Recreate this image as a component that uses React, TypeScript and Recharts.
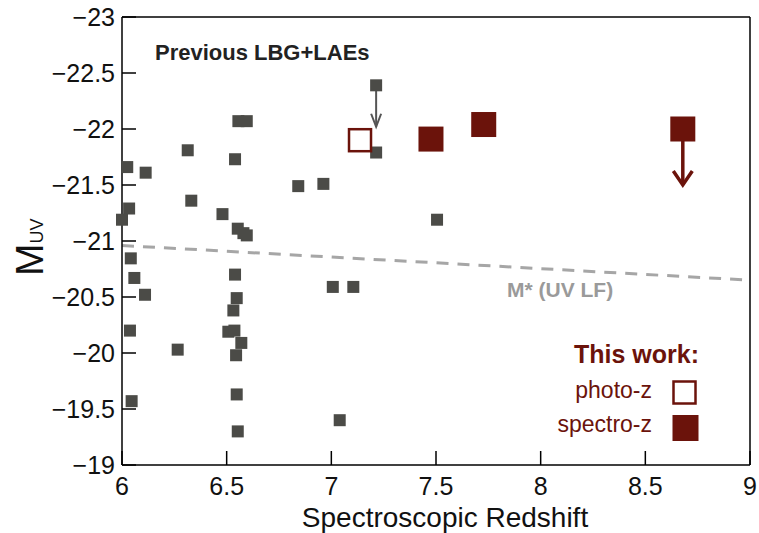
import React from 'react';
import { ScatterChart, Scatter, XAxis, YAxis, ReferenceLine, Customized } from 'recharts';

// Previous LBG + LAE sample
const prevZ = [6.025, 6.034, 6.0, 6.113, 6.314, 6.331, 6.48, 6.54, 6.556, 6.596, 6.553, 6.58, 6.596, 6.842, 6.962,
  6.042, 6.059, 6.11, 6.038, 6.266, 6.046, 6.54, 6.548, 6.532, 6.508, 6.537, 6.57, 6.545, 6.548, 6.553,
  7.007, 7.105, 7.04, 7.214, 7.214, 7.505];
const prevM = [-21.66, -21.29, -21.19, -21.61, -21.81, -21.36, -21.24, -21.73, -22.07, -22.07, -21.11, -21.07, -21.05, -21.49, -21.51,
  -20.845, -20.67, -20.52, -20.2, -20.03, -19.57, -20.7, -20.49, -20.38, -20.19, -20.2, -20.09, -19.98, -19.63, -19.3,
  -20.59, -20.59, -19.4, -22.39, -21.79, -21.19];

// This work
const photoZ = [7.137];
const photoM = [-21.9];
const specZ = [7.476, 7.728, 8.679];
const specM = [-21.91, -22.04, -22.0];

// M* (UV LF)
const mStarZ = [6, 9];
const mStarM = [-20.96, -20.65];

// Upper-limit arrows: start (symbol) and tip
const arrowZ = [7.214, 8.679];
const arrowFrom = [-22.34, -21.95];
const arrowTo = [-22.02, -21.5];
const arrowKind = ['prev', 'this'];

const xTicks = [6, 6.5, 7, 7.5, 8, 8.5, 9];
const yTicks = [-23, -22.5, -22, -21.5, -21, -20.5, -20, -19.5, -19];

const GREY = '#4b4b47';
const RED = '#6b130b';
const FONT = '"Liberation Sans", Arial, Helvetica, sans-serif';

const prevData = prevZ.map((z, i) => ({ z, m: prevM[i] }));
const photoData = photoZ.map((z, i) => ({ z, m: photoM[i] }));
const specData = specZ.map((z, i) => ({ z, m: specM[i] }));
const tipPrev = arrowZ.map((z, i) => ({ z, m: arrowTo[i], k: arrowKind[i] })).filter(d => d.k === 'prev');
const tipThis = arrowZ.map((z, i) => ({ z, m: arrowTo[i], k: arrowKind[i] })).filter(d => d.k === 'this');

const fmt = (v: number) => String(v).replace('-', '\u2212');

const GreySquare = (p: any) => <rect x={p.cx - 6} y={p.cy - 6} width={12} height={12} fill={GREY} />;
const OpenSquare = (p: any) => (
  <rect x={p.cx - 11} y={p.cy - 11} width={22} height={22} fill="#fff" stroke={RED} strokeWidth={2.5} />
);
const FilledSquare = (p: any) => <rect x={p.cx - 12.5} y={p.cy - 12.5} width={25} height={25} fill={RED} />;
const HeadPrev = (p: any) => (
  <polyline points={`${p.cx - 5},${p.cy - 13} ${p.cx},${p.cy} ${p.cx + 5},${p.cy - 13}`} fill="none" stroke="#555" strokeWidth={2} />
);
const HeadThis = (p: any) => (
  <polyline points={`${p.cx - 9.5},${p.cy - 14} ${p.cx},${p.cy} ${p.cx + 9.5},${p.cy - 14}`} fill="none" stroke={RED} strokeWidth={3.5} />
);
const Nothing = () => <g />;

const Annotations = () => (
  <g fontFamily={FONT}>
    <text x={155} y={60} fontSize={22} fontWeight="bold" fill="#222">Previous LBG+LAEs</text>
    <text x={507} y={297} fontSize={21} fontWeight="bold" fill="#9a9a9a">M* (UV LF)</text>
    <text x={699} y={363} fontSize={25} fontWeight="bold" fill={RED} textAnchor="end">This work:</text>
    <text x={652} y={398} fontSize={23} fill={RED} textAnchor="end">photo-z</text>
    <text x={652} y={432} fontSize={23} fill={RED} textAnchor="end">spectro-z</text>
    <rect x={673.5} y={381.5} width={22} height={22} fill="#fff" stroke={RED} strokeWidth={2.5} />
    <rect x={672.5} y={415} width={26} height={26} fill={RED} />
    <text x={445} y={527} fontSize={28} fill="#111" textAnchor="middle">Spectroscopic Redshift</text>
    <text transform="translate(43,276) rotate(-90)" fill="#111">
      <tspan fontSize={39}>M</tspan>
      <tspan fontSize={18}>UV</tspan>
    </text>
  </g>
);

const axisStyle = { stroke: '#000', strokeWidth: 1.5 };

export default function App() {
  return (
    <div style={{ position: 'absolute', left: 0, top: 0, background: '#fff' }}>
      <ScatterChart width={759} height={533} margin={{ top: 16, right: 8, bottom: 0, left: 0 }}>
        <XAxis
          xAxisId="b" dataKey="z" type="number" domain={[6, 9]} ticks={xTicks} orientation="bottom" height={68}
          tickSize={-14} tickMargin={26} tickFormatter={fmt}
          tick={{ fontSize: 25, fill: '#111', fontFamily: FONT }}
          axisLine={axisStyle} tickLine={axisStyle}
        />
        <XAxis
          xAxisId="t" dataKey="z" type="number" domain={[6, 9]} ticks={xTicks} orientation="top" height={1}
          tickSize={-14} tick={false}
          axisLine={axisStyle} tickLine={axisStyle}
        />
        <YAxis
          yAxisId="l" dataKey="m" type="number" domain={[-23, -19]} ticks={yTicks} reversed orientation="left" width={122}
          tickSize={-14} tickMargin={21} tickFormatter={fmt}
          tick={{ fontSize: 25, fill: '#111', fontFamily: FONT }}
          axisLine={axisStyle} tickLine={axisStyle}
        />
        <YAxis
          yAxisId="r" dataKey="m" type="number" domain={[-23, -19]} ticks={yTicks} reversed orientation="right" width={1}
          tickSize={-14} tick={false}
          axisLine={axisStyle} tickLine={axisStyle}
        />
        <Scatter xAxisId="t" yAxisId="r" data={prevData} shape={Nothing} isAnimationActive={false} />
        <ReferenceLine
          xAxisId="b" yAxisId="l"
          segment={[{ x: mStarZ[0], y: mStarM[0] }, { x: mStarZ[1], y: mStarM[1] }]}
          stroke="#a6a6a6" strokeWidth={3} strokeDasharray="12 9"
        />
        <Scatter xAxisId="b" yAxisId="l" data={prevData} shape={GreySquare} isAnimationActive={false} />
        <ReferenceLine
          xAxisId="b" yAxisId="l"
          segment={[{ x: arrowZ[0], y: arrowFrom[0] }, { x: arrowZ[0], y: arrowTo[0] }]}
          stroke="#555" strokeWidth={2}
        />
        <ReferenceLine
          xAxisId="b" yAxisId="l"
          segment={[{ x: arrowZ[1], y: arrowFrom[1] }, { x: arrowZ[1], y: arrowTo[1] }]}
          stroke={RED} strokeWidth={3.5}
        />
        <Scatter xAxisId="b" yAxisId="l" data={tipPrev} shape={HeadPrev} isAnimationActive={false} />
        <Scatter xAxisId="b" yAxisId="l" data={tipThis} shape={HeadThis} isAnimationActive={false} />
        <Scatter xAxisId="b" yAxisId="l" data={photoData} shape={OpenSquare} isAnimationActive={false} />
        <Scatter xAxisId="b" yAxisId="l" data={specData} shape={FilledSquare} isAnimationActive={false} />
        <Customized component={Annotations} />
      </ScatterChart>
    </div>
  );
}
